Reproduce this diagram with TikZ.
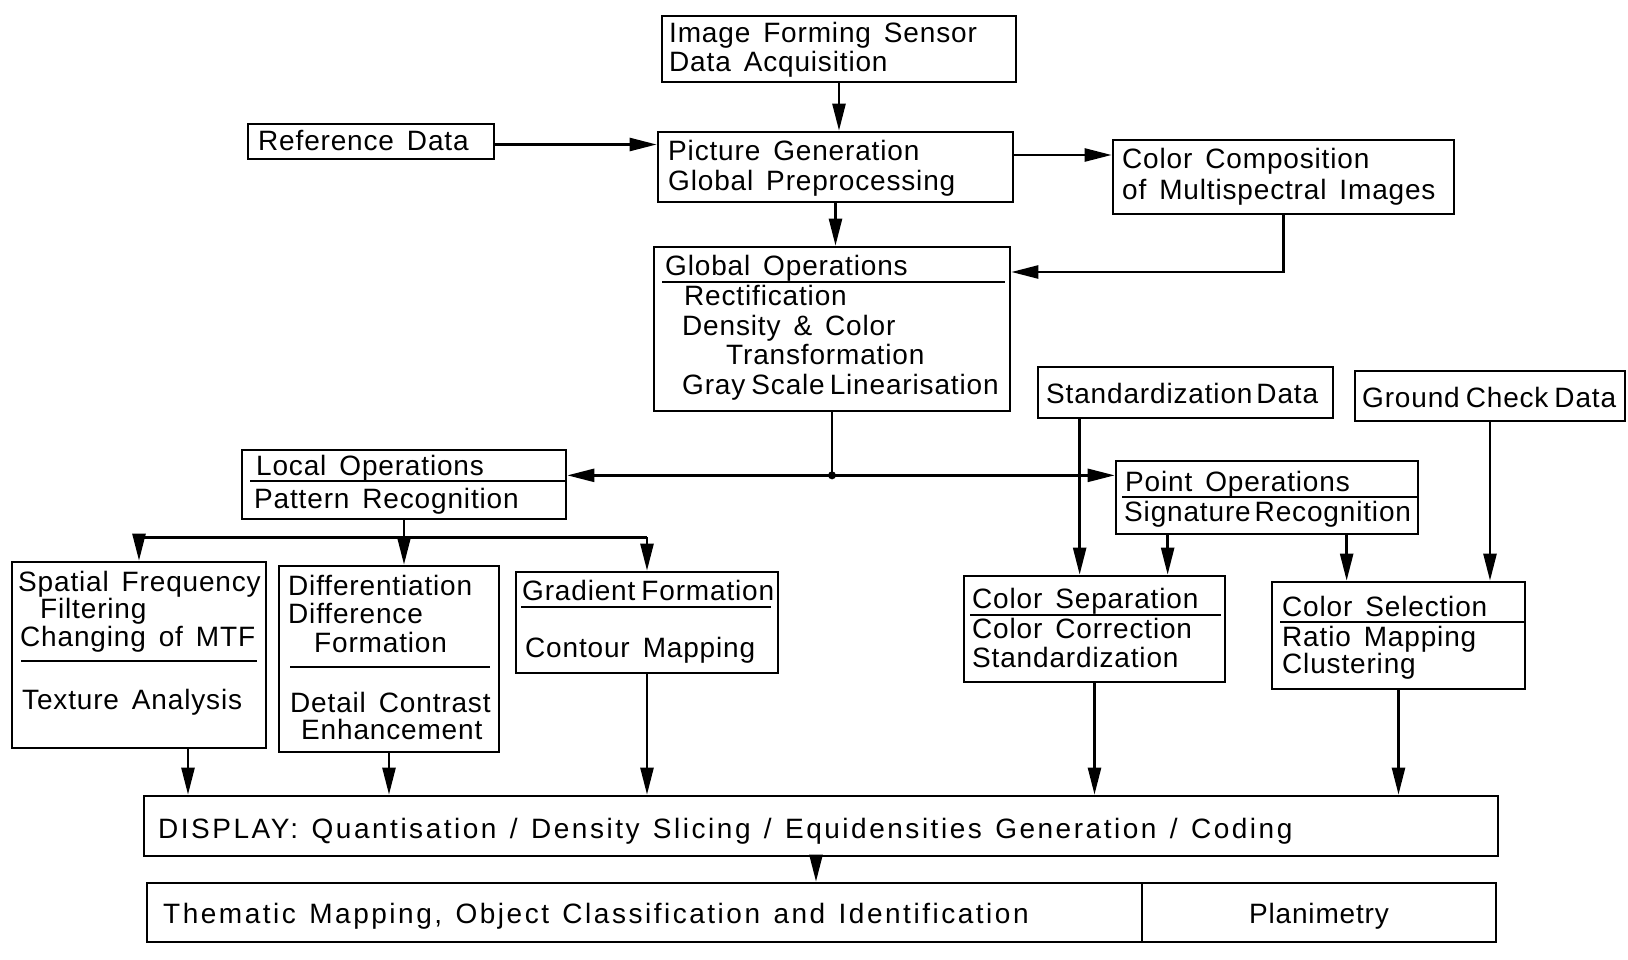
\documentclass[tikz,border=0pt]{standalone}
\usepackage{fontspec}
\setmainfont{Liberation Sans}[WordSpace=1.5,LetterSpace=3]
\newfontfamily\wideFont{Liberation Sans}[LetterSpace=9,WordSpace=1.3]
\usetikzlibrary{arrows.meta,fit}
\newcommand\fsz{\fontsize{28pt}{30pt}\selectfont}
\begin{document}
\begin{tikzpicture}[x=1pt,y=-1pt,
  box/.style={draw, line width=2.7pt, inner sep=0pt},
  txt/.style={font=\fsz, inner sep=0pt, anchor=base west},
  rule/.style={line width=2.4pt},
  link/.style={line width=2.5pt},
  arr/.style={line width=2.5pt, -{Triangle[length=27pt,width=13pt]}}]
\useasboundingbox (0,0) rectangle (1628,960);

% ---------- boxes ----------
\node[box, fit={(662,16) (1016,82)}] (img) {};
\node[box, fit={(248,124) (494,159)}] (ref) {};
\node[box, fit={(658,132) (1013,202)}] (pic) {};
\node[box, fit={(1113,140) (1454,214)}] (cc) {};
\node[box, fit={(654,247) (1010,411)}] (gops) {};
\node[box, fit={(1038,367) (1333,418)}] (std) {};
\node[box, fit={(1355,371) (1625,421)}] (gcd) {};
\node[box, fit={(242,450) (566,519)}] (loc) {};
\node[box, fit={(1116,461) (1418,534)}] (pt) {};
\node[box, fit={(12,562) (266,748)}] (sp) {};
\node[box, fit={(279,566) (499,752)}] (dif) {};
\node[box, fit={(516,572) (778,673)}] (grad) {};
\node[box, fit={(964,576) (1225,682)}] (csep) {};
\node[box, fit={(1272,582) (1525,689)}] (csel) {};
\node[box, fit={(144,796) (1498,856)}] (disp) {};
\node[box, fit={(147,883) (1496,942)}] (them) {};

% ---------- texts ----------
\node[txt] (t1) at (669,43) {Image Forming Sensor};
\node[txt] (t2) at (669,72) {Data Acquisition};
\node[txt] (t3) at (258,151) {Reference Data};
\node[txt] (t4) at (668,161) {Picture Generation};
\node[txt] (t5) at (668,191) {Global Preprocessing};
\node[txt] (t6) at (1122,169) {Color Composition};
\node[txt] (t7) at (1122,200) {of Multispectral Images};
\node[txt] (t8) at (665,276) {Global Operations};
\node[txt] (t9) at (684,305) {Rectification};
\node[txt] (t10) at (682,335) {Density \& Color};
\node[txt] (t11) at (726,364) {Transformation};
\node[txt] (t12) at (682,394) {Gray\hspace{6pt}Scale\hspace{5pt}Linearisation};
\node[txt] (t13) at (1046,403) {Standardization\hspace{4pt}Data};
\node[txt] (t14) at (1362,407) {Ground\hspace{6pt}Check\hspace{6pt}Data};
\node[txt] (t15) at (256,475) {Local Operations};
\node[txt] (t16) at (254,508) {Pattern Recognition};
\node[txt] (t17) at (1125,491) {Point Operations};
\node[txt] (t18) at (1124,521) {Signature\hspace{4pt}Recognition};
\node[txt] (t19) at (18,591) {Spatial Frequency};
\node[txt] (t20) at (40,618) {Filtering};
\node[txt] (t21) at (20,646) {Changing of MTF};
\node[txt] (t22) at (22,709) {Texture Analysis};
\node[txt] (t23) at (288,595) {Differentiation};
\node[txt] (t24) at (288,623) {Difference};
\node[txt] (t25) at (314,652) {Formation};
\node[txt] (t26) at (290,712) {Detail Contrast};
\node[txt] (t27) at (301,739) {Enhancement};
\node[txt] (t28) at (522,600) {Gradient\hspace{6pt}Formation};
\node[txt] (t29) at (525,657) {Contour Mapping};
\node[txt] (t30) at (972,608) {Color Separation};
\node[txt] (t31) at (972,638) {Color Correction};
\node[txt] (t32) at (972,667) {Standardization};
\node[txt] (t33) at (1282,616) {Color Selection};
\node[txt] (t34) at (1282,646) {Ratio Mapping};
\node[txt] (t35) at (1282,673) {Clustering};
\node[txt, font=\fsz\wideFont] (t36) at (158,838) {DISPLAY: Quantisation / Density Slicing / Equidensities Generation / Coding};
\node[txt, font=\fsz\wideFont] (t37) at (163,923) {Thematic Mapping, Object Classification and Identification};
\node[txt, anchor=base] (t38) at (1319,923) {Planimetry};

% ---------- rules inside boxes ----------
\draw[rule] (662,282) -- (1005,282);
\draw[rule] (250,481) -- (loc.east |- 0,481);
\draw[rule] (1122,497) -- (pt.east |- 0,497);
\draw[rule] (21,661) -- (257,661);
\draw[rule] (290,667) -- (490,667);
\draw[rule] (521,607) -- (771,607);
\draw[rule] (970,615) -- (1221,615);
\draw[rule] (1280,622) -- (csel.east |- 0,622);
\draw[rule] (1142,883) -- (1142,942);

% ---------- connectors ----------
\draw[arr] (img.south) -- (img.south |- pic.north);
\coordinate (r1) at ([yshift=-3pt]ref.east);
\draw[arr] (r1) -- (r1 -| pic.west);
\coordinate (p1) at ([yshift=12pt]pic.east);
\draw[arr] (p1) -- (p1 -| cc.west);
\draw[arr] (pic.south) -- (pic.south |- gops.north);
\coordinate (g1) at ([yshift=57pt]gops.east);
\draw[arr] (cc.south) |- (g1);
\coordinate (j) at ([yshift=-63pt]gops.south);
\draw[link] (gops.south) -- (j);
\draw[arr] (j) -- (j -| loc.east);
\draw[arr] (j) -- (j -| pt.west);
\fill (j) circle (4pt);
\coordinate (s1) at ([xshift=43pt]std.south west);
\draw[arr] (s1) -- (s1 |- csep.north);
\coordinate (q1) at ([xshift=53pt]pt.south west);
\draw[arr] (q1) -- (q1 |- csep.north);
\coordinate (q2) at ([xshift=232pt]pt.south west);
\draw[arr] (q2) -- (q2 |- csel.north);
\draw[arr] (gcd.south) -- (gcd.south |- csel.north);
% local operations branching
\coordinate (lb) at ([yshift=-17pt]loc.south);
\draw[link] (loc.south) -- (lb);
\draw[link] (lb -| sp.north) -- (lb -| grad.north);
\draw[arr] (lb -| sp.north) -- (sp.north);
\draw[arr] (lb) -- (lb |- dif.north);
\draw[arr] (lb -| grad.north) -- (grad.north);
% to display
\coordinate (d1) at ([xshift=49pt]sp.south);
\draw[arr] (d1) -- (d1 |- disp.north);
\draw[arr] (dif.south) -- (dif.south |- disp.north);
\draw[arr] (grad.south) -- (grad.south |- disp.north);
\draw[arr] (csep.south) -- (csep.south |- disp.north);
\draw[arr] (csel.south) -- (csel.south |- disp.north);
\coordinate (d2) at ([xshift=-5pt]disp.south);
\draw[arr] (d2) -- (d2 |- them.north);
\end{tikzpicture}
\end{document}
